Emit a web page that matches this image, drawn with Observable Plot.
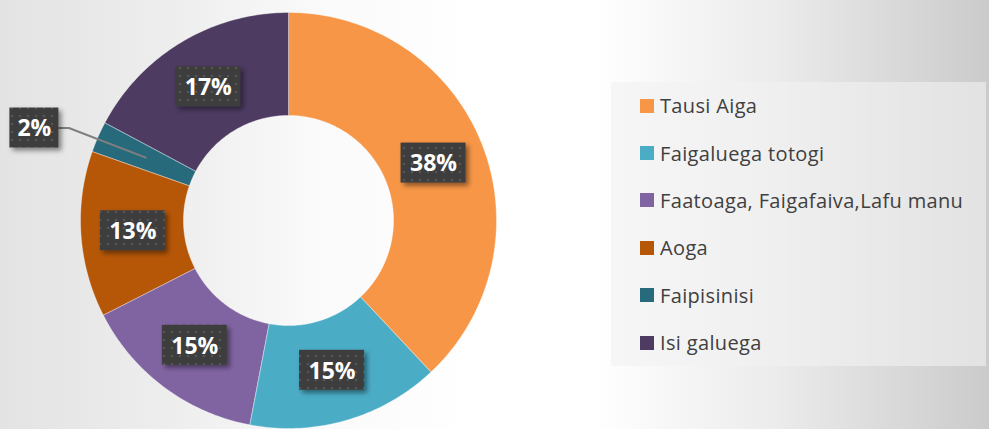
<!DOCTYPE html>
<html>
<head>
<meta charset="utf-8">
<script src="https://cdn.jsdelivr.net/npm/d3@7"></script>
<script src="https://cdn.jsdelivr.net/npm/@observablehq/plot@0.6"></script>
<style>
  html, body { margin: 0; padding: 0; }
  #wrap {
    position: relative; width: 989px; height: 429px; overflow: hidden;
    background: linear-gradient(to right, #e3e3e3 0%, #eeeeee 18%, #fafafa 32%, #ffffff 48%, #ffffff 60%, #ececec 78%, #dadada 90%, #cbcbcb 100%);
  }
  #legend {
    position: absolute; left: 611px; top: 82px; width: 375px; height: 284px;
    background: rgba(242,242,242,0.6);
    font-family: "Open Sans", sans-serif; font-size: 20px; letter-spacing: 0.35px; color: #404040;
  }
  .item { height: 47.4px; display: flex; align-items: center; padding-left: 29px; box-sizing: border-box; }
  .sw { width: 14px; height: 14px; margin-right: 6px; flex: none; }
  g[aria-label="rect"] rect { filter: url(#lblshadow); }
</style>
</head>
<body>
<div id="wrap"></div>
<script>
const categories = ["Tausi Aiga", "Faigaluega totogi", "Faatoaga, Faigafaiva,Lafu manu", "Aoga", "Faipisinisi", "Isi galuega"];
const values = [38.0, 15.0, 14.5, 12.9, 2.4, 17.2];
const labels = ["38%", "15%", "15%", "13%", "2%", "17%"];
const colors = ["#F79646", "#4BACC6", "#8064A2", "#B65708", "#276A7C", "#4D3B62"];

// layout (pixels)
const W = 989, H = 429, CX = 288, CY = 220, R = 208;
const INNER = 0.505, LABEL_R = 0.75;
const u = 1 / R; // data units per pixel

const total = d3.sum(values);
let acc = 0;
const slices = values.map((v, i) => {
  const a0 = acc / total * 2 * Math.PI; acc += v;
  const a1 = acc / total * 2 * Math.PI;
  return {name: categories[i], value: v, label: labels[i], a0, a1, mid: (a0 + a1) / 2};
});

// polygon points for each annular slice
const pts = [];
for (const s of slices) {
  const n = Math.max(2, Math.ceil((s.a1 - s.a0) / (Math.PI / 180)));
  for (let k = 0; k <= n; k++) {
    const a = s.a0 + (s.a1 - s.a0) * k / n;
    pts.push({name: s.name, x: Math.sin(a), y: Math.cos(a)});
  }
  for (let k = n; k >= 0; k--) {
    const a = s.a0 + (s.a1 - s.a0) * k / n;
    pts.push({name: s.name, x: INNER * Math.sin(a), y: INNER * Math.cos(a)});
  }
}

// label positions; small slice label pulled outside with leader line
const outside = {"Faipisinisi": {r: 1.3, angle: 290 * Math.PI / 180}};
const lbls = slices.map(s => {
  const o = outside[s.name];
  const r = o ? o.r : LABEL_R, a = o ? o.angle : s.mid;
  const w = (17 + 16 * s.label.length) * u, h = 40 * u;
  return {...s, x: r * Math.sin(a), y: r * Math.cos(a), w, h, out: !!o};
});
const leader = [];
for (const l of lbls.filter(d => d.out)) {
  leader.push({x: l.x + l.w / 2, y: l.y});
  leader.push({x: l.x + l.w / 2 + 10 * u, y: l.y});
  leader.push({x: LABEL_R * Math.sin(l.mid), y: LABEL_R * Math.cos(l.mid)});
}

const plot = Plot.plot({
  width: W, height: H,
  margin: 0,
  style: {background: "transparent"},
  x: {domain: [-CX / R, (W - CX) / R], axis: null},
  y: {domain: [-(H - CY) / R, CY / R], axis: null},
  color: {domain: categories, range: colors},
  marks: [
    Plot.line(pts, {x: "x", y: "y", z: "name", fill: "name", stroke: "#ffffff", strokeOpacity: 0.45, strokeWidth: 0.8, curve: "linear-closed"}),
    Plot.line(leader, {x: "x", y: "y", stroke: "#7f7f7f", strokeWidth: 2}),
    Plot.rect(lbls, {x1: d => d.x - d.w / 2, x2: d => d.x + d.w / 2, y1: d => d.y - d.h / 2, y2: d => d.y + d.h / 2, fill: "url(#lblpat)"}),
    Plot.text(lbls, {x: "x", y: "y", text: "label", fill: "#ffffff", fontSize: 23, fontWeight: "bold", fontFamily: "Open Sans", dy: 1})
  ]
});

const ns = "http://www.w3.org/2000/svg";
const defs = document.createElementNS(ns, "defs");
defs.innerHTML = `
  <pattern id="lblpat" width="8" height="8" patternUnits="userSpaceOnUse">
    <rect width="8" height="8" fill="#3d3d3d"/>
    <circle cx="4" cy="4" r="1.3" fill="#555555"/>
  </pattern>
  <filter id="lblshadow" x="-20%" y="-30%" width="150%" height="170%">
    <feDropShadow dx="3" dy="3" stdDeviation="2.5" flood-color="#000" flood-opacity="0.45"/>
  </filter>`;
plot.insertBefore(defs, plot.firstChild);

const wrap = document.getElementById("wrap");
wrap.appendChild(plot);

const legend = document.createElement("div");
legend.id = "legend";
categories.forEach((c, i) => {
  const it = document.createElement("div");
  it.className = "item";
  it.innerHTML = `<span class="sw" style="background:${colors[i]}"></span><span>${c}</span>`;
  legend.appendChild(it);
});
wrap.appendChild(legend);
</script>
</body>
</html>
